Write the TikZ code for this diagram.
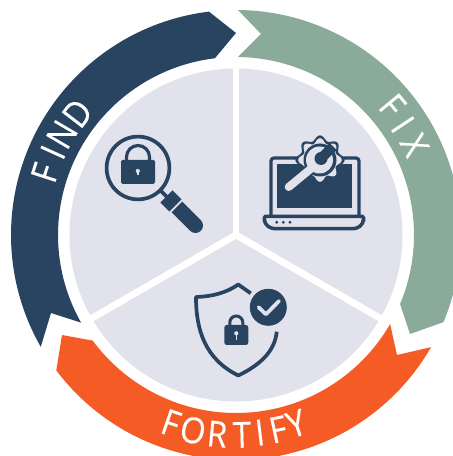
\documentclass[tikz,border=0pt]{standalone}
\usepackage{fontspec}
\setmainfont[FakeBold=0.35,FakeStretch=0.9]{Open Sans}
\definecolor{navy}{HTML}{294460}
\definecolor{sage}{HTML}{8AAB99}
\definecolor{flame}{HTML}{F55B24}
\definecolor{mist}{HTML}{E1E2EC}
\definecolor{ghost}{HTML}{D9EBE1}
\tikzset{
  spoke/.style={draw=white,line width=6.8pt},
  ringletter/.style={text=white,font=\fontsize{36}{36}\selectfont,inner sep=0pt,anchor=center},
  ghostline/.style={draw=ghost,line width=0.7pt}
}
\begin{document}
\begin{tikzpicture}[x=1pt,y=1pt]
\useasboundingbox (0pt,0pt) rectangle (453pt,456pt);
\clip (0pt,0pt) rectangle (453pt,456pt);
\begin{scope}[shift={(236pt,221pt)}]
  % disc and spokes
  \fill[mist] (0pt,0pt) circle[radius=166.5pt];
  \draw[spoke] (0pt,0pt) -- (90:172pt);
  \draw[spoke] (0pt,0pt) -- (210:172pt);
  \draw[spoke] (0pt,0pt) -- (330:172pt);
  % arrows of the ring
  \fill[navy] (96.9:225pt) arc[start angle=96.9,end angle=209.8,radius=225pt]
     -- (-185pt,-78pt) -- (209.5:178pt)
     arc[start angle=209.5,end angle=96.8,radius=178pt] -- (0pt,202pt) -- cycle;
  \fill[sage] (89.5:225pt) arc[start angle=89.5,end angle=-22.8,radius=225pt]
     -- (174pt,-99pt) -- (-22.8:178pt)
     arc[start angle=-22.8,end angle=89.4,radius=178pt] -- (25pt,201pt) -- cycle;
  \fill[flame] (217:225pt) arc[start angle=217,end angle=330.1,radius=225pt]
     -- (161pt,-120pt) -- (330:178pt)
     arc[start angle=330,end angle=216.4,radius=178pt] -- (-174pt,-100pt) -- cycle;
  % labels
  \node[ringletter,rotate=72]   (find1) at (162:201pt) {F};
  \node[ringletter,rotate=65.5] (find2) at (155.7:201pt) {I};
  \node[ringletter,rotate=59.5] (find3) at (150:201pt) {N};
  \node[ringletter,rotate=52.5] (find4) at (142.5:200pt) {D};
  \node[ringletter,rotate=-50.4] (fix1) at (39.6:203pt) {F};
  \node[ringletter,rotate=-56.5] (fix2) at (33.5:200pt) {I};
  \node[ringletter,rotate=-63.3] (fix3) at (26.7:200pt) {X};
  \node[ringletter,rotate=-19.1] (fort1) at (250.9:199pt) {F};
  \node[ringletter,rotate=-12.4] (fort2) at (257.6:200pt) {O};
  \node[ringletter,rotate=-5.4]  (fort3) at (264.6:200pt) {R};
  \node[ringletter,rotate=1.7]   (fort4) at (271.7:200pt) {T};
  \node[ringletter,rotate=6.9]   (fort5) at (276.9:199pt) {I};
  \node[ringletter,rotate=12.2]  (fort6) at (282.2:199pt) {F};
  \node[ringletter,rotate=17.7]  (fort7) at (287.7:198pt) {Y};
\end{scope}
% icons, in the pixel coordinates of the reference
\begin{scope}[shift={(0pt,456pt)},x=1pt,y=-1pt]
  % faint outlines
  \draw[ghostline] (157,180) circle[radius=33pt];
  \draw[ghostline] (127,203) -- (113,222) -- (118,228) -- (135,212);
  \draw[ghostline] (236,302) .. controls (225,312) and (215,316) .. (207,317)
     .. controls (209,340) and (220,355) .. (236,365)
     .. controls (252,355) and (262,340) .. (264,330);
  % magnifier
  \draw[navy,line width=3.7pt] (138,168) circle[radius=31.4pt];
  \draw[navy,line width=3.8pt] (160,190) -- (167,197);
  \draw[navy,line width=17pt] (166.5,196.5) -- (175.5,205.5);
  \draw[navy,line width=15pt,line cap=round] (184,214) -- (195.5,225.5);
  \draw[navy,line width=15pt] (177,207) -- (185,215);
  \fill[navy,rounded corners=1.5pt] (121,160) rectangle (155,184);
  \draw[navy,line width=3.2pt] (126.5,161) -- (126.5,157) arc[start angle=180,end angle=360,x radius=11.5pt,y radius=-11.5pt] -- (149.5,161);
  \fill[mist] (137.8,171) circle[radius=2.1pt];
  \fill[mist] (137,171) rectangle (138.6,175.5);
  % laptop
  \draw[navy,line width=3.2pt,fill=mist,rounded corners=3pt] (271,216) -- (271,158) -- (359,158) -- (359,216);
  \fill[navy] (277.3,164.3) rectangle (351.7,208.3);
  \draw[navy,line width=3.5pt,fill=mist,rounded corners=1pt] (264.3,216.5) -- (363.5,216.5) -- (363.5,218)
     .. controls (363.5,225) and (358,228.7) .. (352,228.7) -- (276,228.7)
     .. controls (270,228.7) and (264.3,225) .. (264.3,218) -- cycle;
  \fill[navy] (276.7,222.3) circle[radius=1.6pt] (283.3,222.3) circle[radius=1.6pt] (290,222.3) circle[radius=1.6pt];
  % gear
  \fill[navy] plot[smooth cycle,domain=0:357,samples=120]
     ({320+(22.2+2.4*cos(8*\x))*cos(\x)},{160+(22.2+2.4*cos(8*\x))*sin(\x)});
  \fill[mist] plot[smooth cycle,domain=0:357,samples=120]
     ({320+(19.4+2.4*cos(8*\x))*cos(\x)},{160+(19.4+2.4*cos(8*\x))*sin(\x)});
  \fill[navy] (320,160) circle[radius=16.5pt];
  \draw[navy,line width=12pt,line cap=round] (288.7,187) -- (312,168);
  \draw[mist,line width=8pt,line cap=round] (288.7,187) -- (313,167);
  \fill[mist] (319.5,160) circle[radius=13.5pt];
  \fill[navy] (321,158.5) circle[radius=6.5pt];
  \draw[navy,line width=10pt] (321,158.5) -- (333,146.5);
  % shield
  \draw[navy,line width=3.7pt,line join=round] (250.7,293.3) -- (238.3,284.5)
     .. controls (226,293) and (212,296.5) .. (196,297)
     .. controls (196,330) and (205,359) .. (238.3,375.5)
     .. controls (262,364) and (275,350) .. (276.7,331.7);
  \fill[navy] (268.3,307.3) circle[radius=18.5pt];
  \draw[mist,line width=3.8pt,line cap=round,line join=round] (258.6,307.3) -- (266,314.3) -- (279,301);
  \fill[navy,rounded corners=2.5pt] (224.3,325) rectangle (248.3,345);
  \draw[navy,line width=3pt] (229.8,326) -- (229.8,322.5) arc[start angle=180,end angle=360,x radius=6.5pt,y radius=-6.5pt] -- (242.8,326);
  \fill[mist] (236.3,333.3) circle[radius=2.1pt];
  \fill[mist] (235.5,333.3) rectangle (237.1,340);
\end{scope}
\end{tikzpicture}
\end{document}
